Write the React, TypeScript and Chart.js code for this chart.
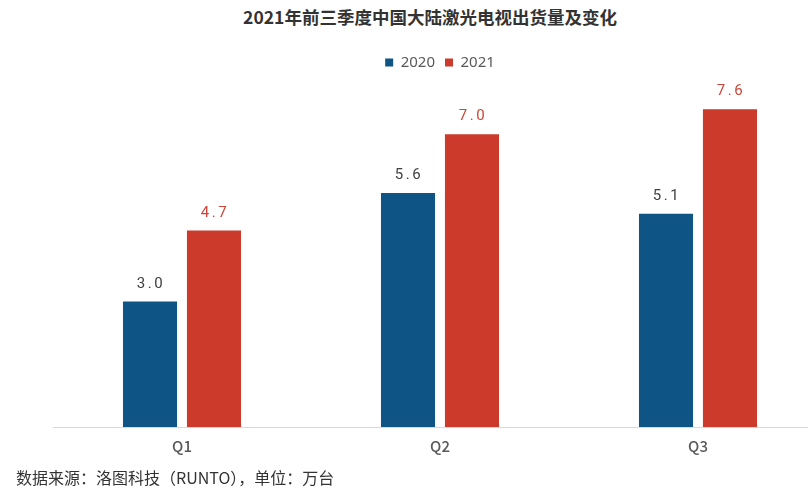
import React, { useEffect, useRef } from "react";
import { Chart, registerables } from "chart.js";

Chart.register(...registerables);

const TITLE = "2021年前三季度中国大陆激光电视出货量及变化";
const SOURCE = "数据来源：洛图科技（RUNTO），单位：万台";
const categories = ["Q1", "Q2", "Q3"];
const seriesNames = ["2020", "2021"];
const values2020 = [3.0, 5.6, 5.1];
const values2021 = [4.7, 7.0, 7.6];
const barColors = ["#0E5485", "#CB3A2A"];
const labelColors = ["#404040", "#C9473A"];
const Y_MAX = 8.3;

const valueLabels = {
  id: "valueLabels",
  afterDatasetsDraw(chart: any) {
    const ctx = chart.ctx;
    ctx.save();
    ctx.font = "15px Roboto";
    ctx.textAlign = "center";
    ctx.textBaseline = "alphabetic";
    try {
      (ctx as any).letterSpacing = "2.5px";
    } catch (e) {}
    chart.data.datasets.forEach((ds: any, di: number) => {
      const meta = chart.getDatasetMeta(di);
      meta.data.forEach((el: any, i: number) => {
        const v = ds.data[i] as number;
        ctx.fillStyle = labelColors[di];
        ctx.fillText(v.toFixed(1), el.x + 1, el.y - 14);
      });
    });
    ctx.restore();
  },
};

export default function App() {
  const ref = useRef<HTMLCanvasElement>(null);
  useEffect(() => {
    if (!ref.current) return;
    const chart = new Chart(ref.current, {
      type: "bar",
      data: {
        labels: categories,
        datasets: [
          {
            label: seriesNames[0],
            data: values2020,
            backgroundColor: barColors[0],
            categoryPercentage: 0.496,
            barPercentage: 0.845,
          },
          {
            label: seriesNames[1],
            data: values2021,
            backgroundColor: barColors[1],
            categoryPercentage: 0.496,
            barPercentage: 0.845,
          },
        ],
      },
      options: {
        responsive: false,
        animation: false,
        layout: { padding: { left: 53, right: 13, top: 45, bottom: 0 } },
        plugins: {
          title: { display: false },
          tooltip: { enabled: false },
          legend: {
            display: true,
            position: "top",
            labels: {
              boxWidth: 8,
              boxHeight: 8,
              padding: 10,
              color: "#595959",
              font: { family: "'Noto Sans', 'Noto Sans CJK SC', sans-serif", size: 15 },
            },
          },
        },
        scales: {
          x: {
            grid: { display: false, drawTicks: false },
            border: { display: true, color: "#D9D9D9", width: 1 },
            ticks: {
              color: "#595959",
              padding: 10,
              font: { family: "'Noto Sans CJK SC', sans-serif", size: 15, weight: "500" },
            },
            afterFit: (scale: any) => {
              scale.height = 61;
            },
          },
          y: {
            display: false,
            min: 0,
            max: Y_MAX,
          },
        },
      },
      plugins: [valueLabels],
    });
    return () => chart.destroy();
  }, []);

  return (
    <div
      style={{
        position: "absolute",
        left: 0,
        top: 0,
        width: 808,
        height: 488,
        overflow: "hidden",
        background: "#ffffff",
      }}
    >
      <div
        style={{
          position: "absolute",
          left: 0,
          top: 5,
          width: 860,
          textAlign: "center",
          fontFamily: "'Noto Sans CJK SC', sans-serif",
          fontWeight: 700,
          fontSize: 17.5,
          lineHeight: "24px",
          color: "#333333",
          whiteSpace: "nowrap",
        }}
      >
        {TITLE}
      </div>
      <canvas
        ref={ref}
        width={840}
        height={488}
        style={{ position: "absolute", left: 0, top: 0, width: 840, height: 488 }}
      />
      <div
        style={{
          position: "absolute",
          left: 16,
          top: 466,
          fontFamily: "'Noto Sans CJK SC', sans-serif",
          fontSize: 16,
          lineHeight: "22px",
          color: "#333333",
          whiteSpace: "nowrap",
        }}
      >
        {SOURCE}
      </div>
    </div>
  );
}
